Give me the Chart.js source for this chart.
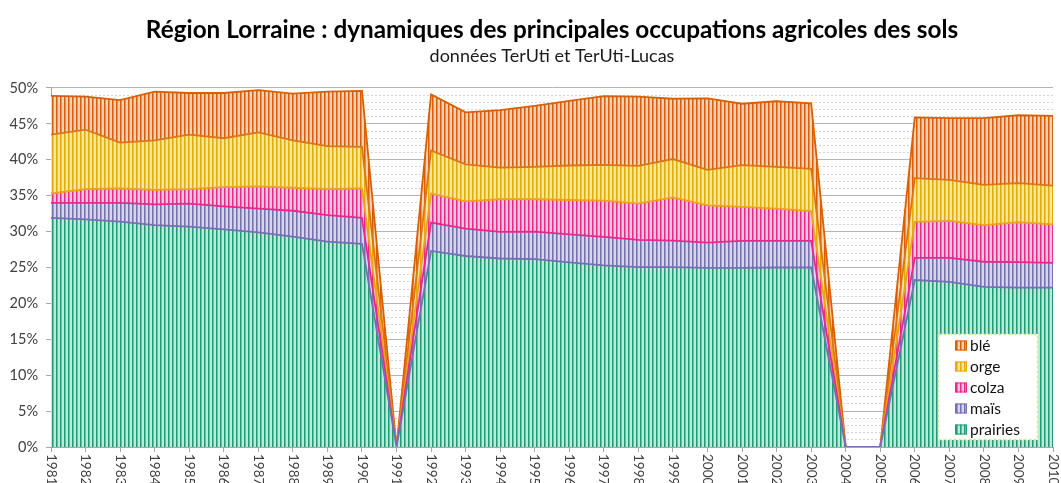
<!DOCTYPE html>
<html><head><meta charset="utf-8">
<script src="https://cdn.jsdelivr.net/npm/chart.js@4.4.1/dist/chart.umd.min.js"></script>
<style>html,body{margin:0;padding:0;background:#fff}canvas{display:block}</style>
</head><body>
<canvas id="c" width="1061" height="483"></canvas>
<script>
const years = ['1981','1982','1983','1984','1985','1986','1987','1988','1989','1990','1991','1992','1993','1994','1995','1996','1997','1998','1999','2000','2001','2002','2003','2004','2005','2006','2007','2008','2009','2010'];
const prairies = [31.9,31.7,31.4,30.9,30.7,30.3,29.9,29.3,28.6,28.3,0,27.3,26.6,26.25,26.15,25.7,25.3,25.05,25.05,24.95,24.95,25.0,25.0,0,0,23.25,23.0,22.3,22.2,22.2];
const mais     = [2.1,2.3,2.6,2.9,3.2,3.2,3.3,3.6,3.7,3.6,0,3.95,3.8,3.7,3.85,3.9,3.95,3.8,3.7,3.5,3.75,3.7,3.7,0,0,3.1,3.35,3.5,3.55,3.45];
const colza    = [1.3,1.9,2.0,2.0,2.0,2.7,3.1,3.2,3.6,4.1,0,4.05,3.8,4.55,4.5,4.8,5.05,5.05,6.0,5.2,4.75,4.5,4.15,0,0,5.0,5.15,5.1,5.55,5.35];
const orge     = [8.2,8.3,6.4,6.9,7.6,6.8,7.5,6.6,6.0,5.8,0,6.0,5.15,4.4,4.5,4.8,5.0,5.25,5.35,4.95,5.8,5.8,5.9,0,0,6.1,5.7,5.6,5.45,5.4];
const ble      = [5.4,4.6,5.9,6.8,5.8,6.3,5.9,6.5,7.6,7.8,0,7.8,7.25,8.0,8.5,9.0,9.55,9.65,8.4,9.95,8.55,9.15,9.1,0,0,8.45,8.6,9.3,9.45,9.7];

const seriesNames = ['prairies','maïs','colza','orge','blé'];
const seriesValues = [prairies, mais, colza, orge, ble];
const darkColors  = ['#1b9e77','#7570b3','#e7298a','#e6ab02','#d95f02'];
const lightColors = ['#c2e7da','#d6d5ec','#f9c6e0','#f8e3a2','#f7d2b4'];
const edgeColors  = ['#7570b3','#e7298a','#eca21a','#df7412','#d95f02'];

const FONT = 'Lato, "Open Sans", sans-serif';
const canvas = document.getElementById('c');
const ctx = canvas.getContext('2d');

function makePattern(dark, light){
  const p = document.createElement('canvas');
  p.width = 4; p.height = 4;
  const x = p.getContext('2d');
  x.fillStyle = light; x.fillRect(0,0,4,4);
  x.fillStyle = dark; x.fillRect(0,0,1,4);
  x.globalAlpha = 0.55; x.fillRect(1,0,1,4);
  return ctx.createPattern(p,'repeat');
}
const patterns = darkColors.map((c,i)=>makePattern(c, lightColors[i]));

const datasets = seriesValues.map((v,i)=>({
  label: seriesNames[i],
  data: v,
  backgroundColor: patterns[i],
  borderColor: edgeColors[i],
  borderWidth: 1.8,
  fill: i===0 ? 'origin' : '-1',
  pointRadius: 0,
  pointHoverRadius: 0,
  tension: 0
}));

const customDraw = {
  id: 'customDraw',
  afterDraw(chart){
    const c = chart.ctx;
    const xs = chart.scales.x;
    const area = chart.chartArea;
    c.save();
    c.fillStyle = '#404040';
    c.font = '13.5px ' + FONT;
    c.textAlign = 'left';
    c.textBaseline = 'middle';
    years.forEach((y,i)=>{
      const px = xs.getPixelForTick(i);
      c.save();
      c.translate(px, area.bottom + 7);
      c.rotate(Math.PI/2);
      c.fillText(y, 0, 0);
      c.restore();
    });
    c.restore();
    const lw = 100, lh = 106;
    const lx = area.right - 115, ly = area.bottom - 113;
    c.save();
    c.fillStyle = '#fff';
    c.fillRect(lx, ly, lw, lh);
    c.setLineDash([3,2]);
    c.strokeStyle = '#d5e89a';
    c.lineWidth = 1.5;
    c.strokeRect(lx+0.5, ly+0.5, lw-1, lh-1);
    c.setLineDash([]);
    c.font = '15.5px ' + FONT;
    c.textBaseline = 'middle';
    c.textAlign = 'left';
    for (let k=0;k<5;k++){
      const i = 4-k;
      const cy = ly + 11.5 + k*21;
      c.fillStyle = patterns[i];
      c.fillRect(lx+17, cy-5, 12, 10);
      c.strokeStyle = darkColors[i];
      c.lineWidth = 1;
      c.strokeRect(lx+17.5, cy-4.5, 11, 9);
      c.fillStyle = '#111';
      c.fillText(seriesNames[i], lx+32, cy+0.5);
    }
    c.restore();
  }
};

new Chart(ctx, {
  type: 'line',
  data: { labels: years, datasets },
  options: {
    responsive: false,
    animation: false,
    devicePixelRatio: 1,
    layout: { padding: { left: 0, right: 8, top: 0, bottom: 0 } },
    plugins: {
      legend: { display: false },
      tooltip: { enabled: false },
      title: {
        display: true, fullSize: false,
        text: 'Région Lorraine : dynamiques des principales occupations agricoles des sols',
        font: { family: FONT, size: 24.3, weight: 'bold' },
        color: '#000',
        padding: { top: 15.4, bottom: 0 }
      },
      subtitle: {
        display: true, fullSize: false,
        text: 'données TerUti et TerUti-Lucas',
        font: { family: FONT, size: 18 },
        color: '#1a1a1a',
        padding: { top: 0.6, bottom: 21.2 }
      }
    },
    scales: {
      x: {
        type: 'category',
        offset: false,
        ticks: { display: false },
        grid: { drawOnChartArea: false, drawTicks: true, tickLength: 5, color: '#a6a6a6' },
        border: { color: '#a6a6a6' },
        afterFit(s){ s.height = 36; }
      },
      y: {
        stacked: true,
        min: 0, max: 50,
        position: 'left',
        ticks: { stepSize: 5, padding: 8, color: '#404040', font: { family: FONT, size: 14.5 }, callback: v => v + '%' },
        grid: { color: '#b5b5b5', tickLength: 5, tickColor: '#a6a6a6' },
        border: { color: '#a6a6a6' },
        afterFit(s){ s.width = 51; }
      },
      yMinor: {
        type: 'linear',
        position: 'right',
        min: 0, max: 50,
        ticks: { display: false, stepSize: 1 },
        grid: { drawTicks: false, color: c => (c.tick && c.tick.value % 5 === 0) ? 'rgba(0,0,0,0)' : '#d4d4d4' },
        border: { display: false, dash: [2,2] },
        afterFit(s){ s.width = 0; }
      }
    }
  },
  plugins: [customDraw]
});
</script>
</body></html>
